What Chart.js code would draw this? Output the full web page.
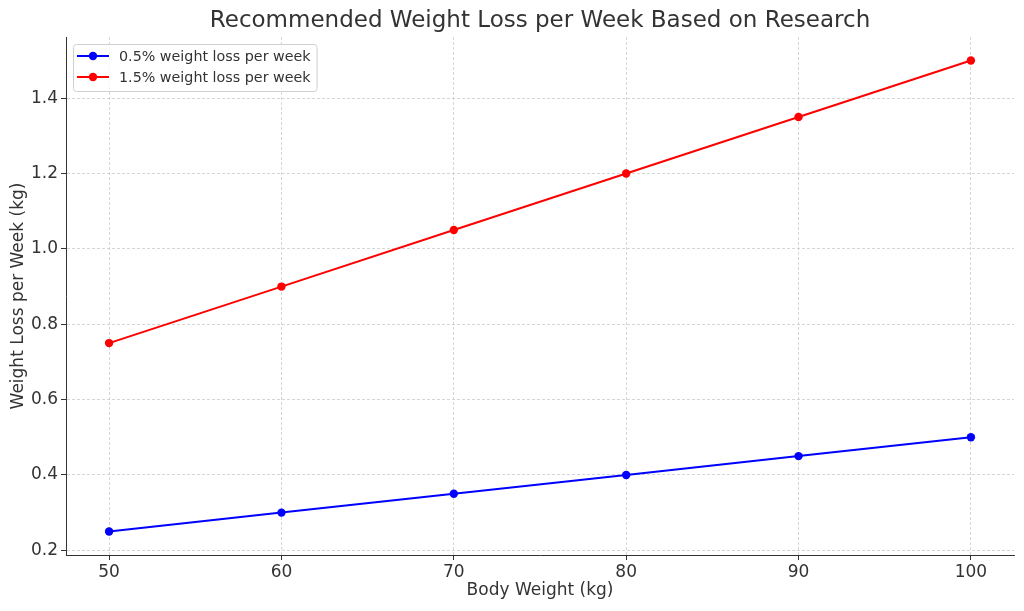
<!DOCTYPE html>
<html>
<head>
<meta charset="utf-8">
<title>Recommended Weight Loss per Week</title>
<script src="https://cdn.jsdelivr.net/npm/chart.js@4.4.1/dist/chart.umd.min.js"></script>
<style>
    html, body { margin: 0; padding: 0; background: #fff; }
    #chart { display: block; }
</style>
</head>
<body>
<canvas id="chart" width="1024" height="611"></canvas>
<script>
    // Data
    const bodyWeight = [50, 60, 70, 80, 90, 100];
    const lossLow = [0.25, 0.30, 0.35, 0.40, 0.45, 0.50];
    const lossHigh = [0.75, 0.90, 1.05, 1.20, 1.35, 1.50];
    const xTicks = [50, 60, 70, 80, 90, 100];
    const yTicks = [0.2, 0.4, 0.6, 0.8, 1.0, 1.2, 1.4];

    const textColor = "#333333";
    const gridColor = "#cccccc";
    Chart.defaults.font.family = "'DejaVu Sans', sans-serif";
    Chart.defaults.color = textColor;

    function toPoints(ys) {
        return bodyWeight.map(function (x, i) { return { x: x, y: ys[i] }; });
    }

    // Legend box drawn inside the plot, top-left (like matplotlib)
    const insideLegend = {
        id: "insideLegend",
        afterDraw: function (chart) {
            const ctx = chart.ctx;
            const area = chart.chartArea;
            const sets = chart.data.datasets;
            ctx.save();
            ctx.font = "14.3px 'DejaVu Sans'";
            let textW = 0;
            sets.forEach(function (ds) { textW = Math.max(textW, ctx.measureText(ds.label).width); });
            const bx = area.left + 7, by = area.top + 7;
            const bw = 46 + textW + 6, bh = 47;
            ctx.beginPath();
            ctx.roundRect(bx + 0.5, by + 0.5, bw, bh, 3);
            ctx.fillStyle = "rgba(255,255,255,0.8)";
            ctx.fill();
            ctx.strokeStyle = "#d0d0d0";
            ctx.lineWidth = 1;
            ctx.stroke();
            sets.forEach(function (ds, i) {
                const y = by + 12 + i * 21;
                ctx.strokeStyle = ds.borderColor;
                ctx.lineWidth = 2;
                ctx.beginPath();
                ctx.moveTo(bx + 4, y);
                ctx.lineTo(bx + 36, y);
                ctx.stroke();
                ctx.fillStyle = ds.borderColor;
                ctx.beginPath();
                ctx.arc(bx + 20, y, 4.2, 0, Math.PI * 2);
                ctx.fill();
                ctx.fillStyle = textColor;
                ctx.textBaseline = "middle";
                ctx.fillText(ds.label, bx + 46, y + 1);
            });
            ctx.restore();
        }
    };

    const ctx = document.getElementById("chart").getContext("2d");
    const myChart = new Chart(ctx, {
        type: "line",
        data: {
            datasets: [{
                label: "0.5% weight loss per week",
                data: toPoints(lossLow),
                borderColor: "#0000ff",
                backgroundColor: "#0000ff",
                borderWidth: 2,
                pointRadius: 4.2,
                pointBorderWidth: 0,
                tension: 0
            }, {
                label: "1.5% weight loss per week",
                data: toPoints(lossHigh),
                borderColor: "#ff0000",
                backgroundColor: "#ff0000",
                borderWidth: 2,
                pointRadius: 4.2,
                pointBorderWidth: 0,
                tension: 0
            }]
        },
        options: {
            responsive: false,
            animation: false,
            devicePixelRatio: 1,
            layout: { padding: { left: 0, right: 10, top: 0, bottom: 0 } },
            plugins: {
                legend: { display: false },
                tooltip: { enabled: false },
                title: {
                    display: true,
                    fullSize: false,
                    text: "Recommended Weight Loss per Week Based on Research",
                    font: { size: 23, weight: "normal" },
                    color: textColor,
                    padding: { top: 7, bottom: 2.4 }
                }
            },
            scales: {
                x: {
                    type: "linear",
                    min: 47.5,
                    max: 102.5,
                    afterBuildTicks: function (s) { s.ticks = xTicks.map(function (v) { return { value: v }; }); },
                    afterFit: function (s) { s.height = 56; },
                    ticks: { font: { size: 17 }, color: textColor, padding: 2 },
                    grid: { color: gridColor, lineWidth: 0.8, tickColor: textColor, tickLength: 5, tickWidth: 1 },
                    border: { display: true, color: textColor, width: 1, dash: [3, 2] },
                    title: {
                        display: true,
                        text: "Body Weight (kg)",
                        font: { size: 17 },
                        color: textColor,
                        padding: { top: 10, bottom: 10 }
                    }
                },
                y: {
                    type: "linear",
                    min: 0.1875,
                    max: 1.5625,
                    afterBuildTicks: function (s) { s.ticks = yTicks.map(function (v) { return { value: v }; }); },
                    afterFit: function (s) { s.width = 66; },
                    ticks: {
                        font: { size: 17 },
                        color: textColor,
                        padding: 3,
                        callback: function (v) { return v.toFixed(1); }
                    },
                    grid: { color: gridColor, lineWidth: 0.8, tickColor: textColor, tickLength: 5, tickWidth: 1 },
                    border: { display: true, color: textColor, width: 1, dash: [3, 2] },
                    title: {
                        display: true,
                        text: "Weight Loss per Week (kg)",
                        font: { size: 17 },
                        color: textColor,
                        padding: { top: 8, bottom: 8 }
                    }
                }
            }
        },
        plugins: [insideLegend]
    });
</script>
</body>
</html>
